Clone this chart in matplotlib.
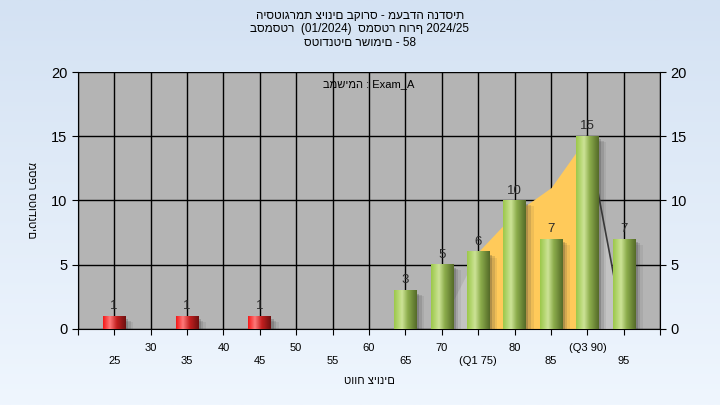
import numpy as np
import matplotlib; matplotlib.use("Agg")
import matplotlib.pyplot as plt
from matplotlib.colors import LinearSegmentedColormap

plt.rcParams['font.family'] = ['Liberation Sans', 'DejaVu Sans']

# ── data ─────────────────────────────────────────────────────────────────────
bins   = [25, 35, 45, 65, 70, 75, 80, 85, 90, 95]
counts = [1, 1, 1, 3, 5, 6, 10, 7, 15, 7]
fail_limit = 55

# background area (interquartile band)
area_x = [70, 75, 80, 85, 90, 95]
area_y = [0.5, 6, 9, 11, 15, 0]
q1, q3 = 75, 90

tick_pos    = list(range(20, 101, 5))
tick_labels = ["", "\n25", "30", "\n35", "40", "\n45", "50", "\n55", "60",
               "\n65", "70", "\n(Q1 75)", "80", "\n85", "(Q3 90)", "\n95", ""]

title = ("היסטוגרמת ציונים בקורס - מעבדה הנדסית\n"
         "בסמסטר  (01/2024)  סמסטר חורף 2024/25\n"
         "סטודנטים רשומים - 58")
note   = "במשימה : Exam_A"
xlabel = "טווח ציונים"
ylabel = "מספר סטודנטים"

# ── figure ───────────────────────────────────────────────────────────────────
fig = plt.figure(figsize=(7.2, 4.05), dpi=100)
bg = fig.add_axes([0, 0, 1, 1], zorder=-10)
grad = np.linspace(0, 1, 256).reshape(-1, 1)
bg.imshow(grad, aspect="auto", extent=(0, 1, 0, 1),
          cmap=LinearSegmentedColormap.from_list("bg", ["#eff6fe", "#d4e2f3"]),
          origin="lower")
bg.axis("off")

ax = fig.add_axes([0.108, 0.188, 0.809, 0.634])
ax.set_facecolor("#b4b4b4")

# area behind the bars
ax_x = np.array(area_x, float); ax_y = np.array(area_y, float)
xx = np.linspace(area_x[0], area_x[-1], 500)
yy = np.interp(xx, ax_x, ax_y)
inner = (xx >= q1) & (xx <= q3)
ax.fill_between(xx, 0, yy, where=xx <= q1, color="#c3c3c3", lw=0, zorder=1)
ax.fill_between(xx, 0, yy, where=xx >= q3, color="#c3c3c3", lw=0, zorder=1)
ax.fill_between(xx, 0, yy, where=inner, color="#ffca5a", lw=0, zorder=1.1)
ax.plot(area_x[-2:], area_y[-2:], color="#3a3a3a", lw=1.2, zorder=1.2)

# bars with cylinder shading
green = LinearSegmentedColormap.from_list(
    "g", [(0, "#9cc84a"), (0.35, "#cce396"), (0.6, "#8cad4c"), (1, "#556b28")])
red = LinearSegmentedColormap.from_list(
    "r", [(0, "#f41818"), (0.3, "#ff7a7a"), (0.6, "#c42020"), (1, "#6e1010")])
shade = np.linspace(0, 1, 64).reshape(1, -1)
w = 3.1
for b, c in zip(bins, counts):
    cmap = red if b < fail_limit else green
    for k, a in enumerate([0.22, 0.14, 0.08]):
        off = 0.35 + 0.35 * k
        ax.add_patch(plt.Rectangle((b - w / 2 + off, -0.25 - 0.1 * k), w, c,
                                   color="#303030", alpha=a, lw=0, zorder=2))
    ax.imshow(shade, cmap=cmap, aspect="auto", extent=(b - w / 2, b + w / 2, 0, c),
              zorder=3, interpolation="bilinear")
    ax.text(b, c + 0.3, str(c), ha="center", va="bottom", fontsize=9.5,
            color="#2a2a2a", zorder=4)

ax.set_xlim(20, 100)
ax.set_ylim(0, 20)
ax.set_xticks(tick_pos)
ax.set_xticklabels(tick_labels, fontsize=8, linespacing=1.45)
ax.set_yticks(range(0, 21, 5))
ax.tick_params(axis="y", labelsize=10.5, right=True, labelright=True, length=4)
ax.tick_params(axis="x", length=4, pad=6)
ax.grid(True, color="black", lw=1)
ax.set_axisbelow(True)
for s in ax.spines.values():
    s.set_visible(False)
ax.spines["bottom"].set_visible(True)
ax.spines["left"].set_visible(True)
ax.spines["right"].set_visible(True)

ax.text(0.5, 0.955, note, transform=ax.transAxes, ha="center", va="center",
        fontsize=8, zorder=5)
ax.set_xlabel(xlabel, fontsize=8, labelpad=7)
ax.set_ylabel(ylabel, fontsize=8, rotation=270, labelpad=18, va="bottom")
fig.text(0.5, 0.975, title, ha="center", va="top", fontsize=8.5, linespacing=1.15)

fig.savefig("out.png", dpi=100)
